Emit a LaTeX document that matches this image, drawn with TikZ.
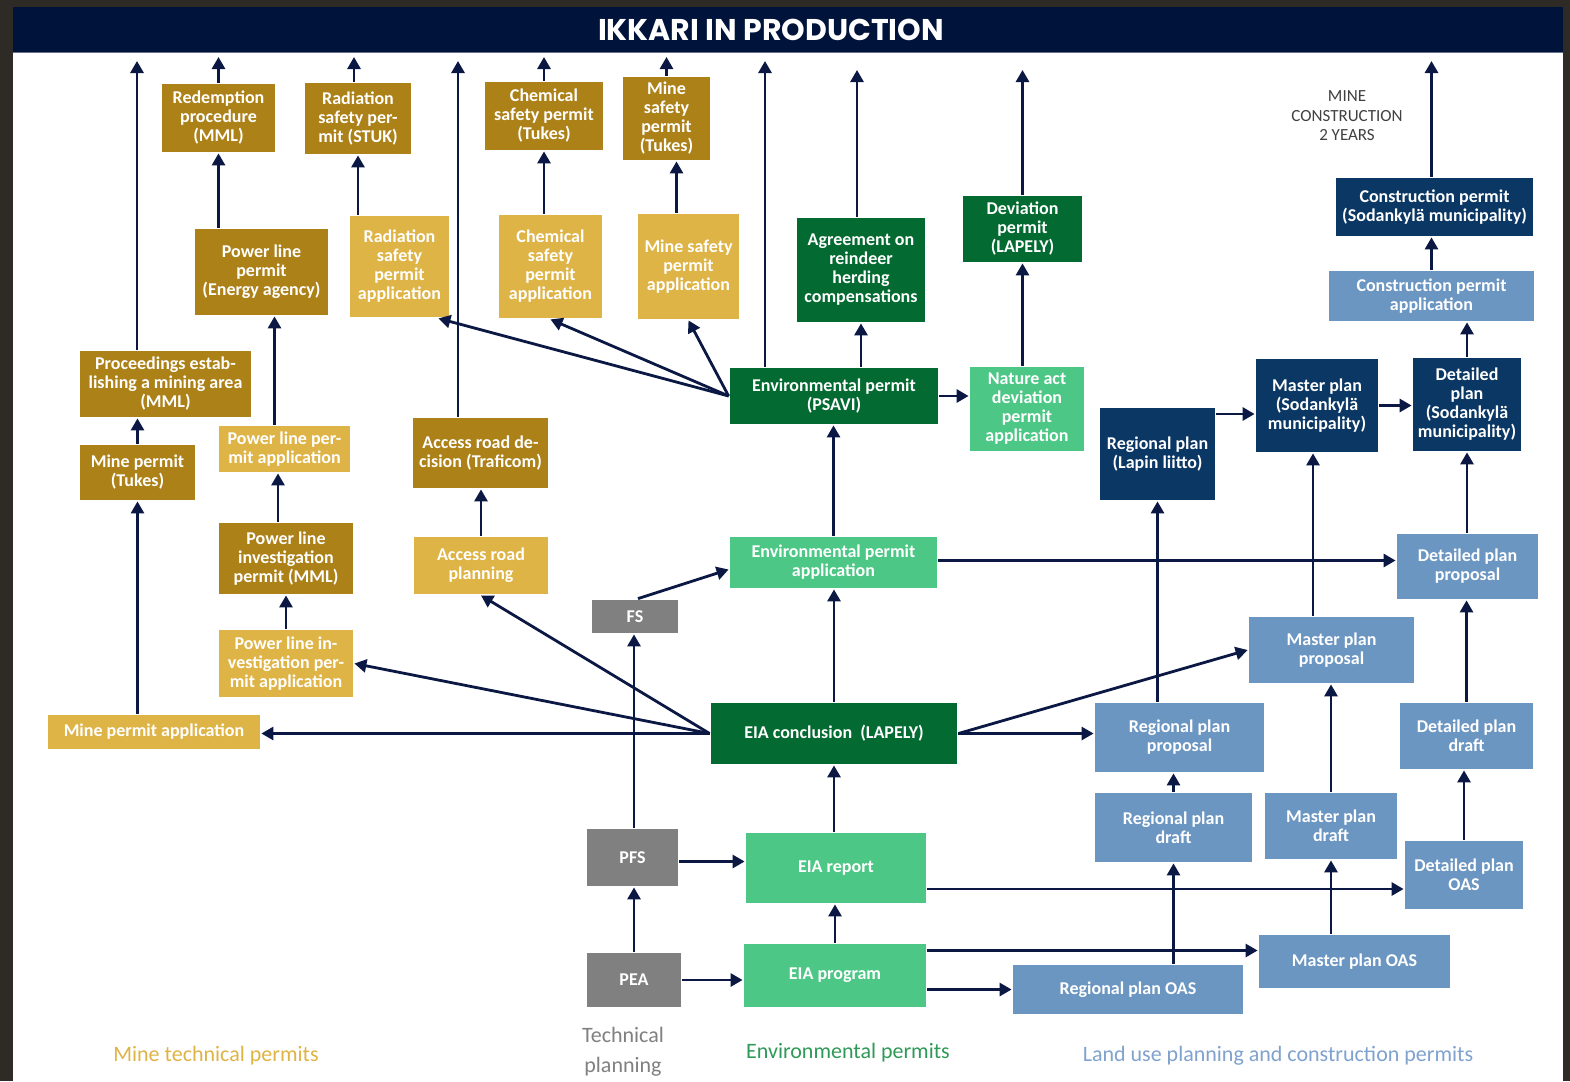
\documentclass[tikz,border=0pt]{standalone}
\usepackage{fontspec}
\setmainfont{Carlito}
\newfontfamily\titlefont{Poppins}
\usetikzlibrary{arrows.meta}
\definecolor{golddark}{HTML}{AC8118}
\definecolor{goldlight}{HTML}{DFB446}
\definecolor{greendark}{HTML}{036B31}
\definecolor{greenlight}{HTML}{4CC785}
\definecolor{greentext}{HTML}{2F9A57}
\definecolor{bluedark}{HTML}{0B3764}
\definecolor{bluelight}{HTML}{6C96C2}
\definecolor{bluetext}{HTML}{7FA2CE}
\definecolor{techgray}{HTML}{808080}
\definecolor{titlenavy}{HTML}{00133A}
\definecolor{framedark}{HTML}{2E2A26}
\definecolor{arrownavy}{HTML}{0B1843}

\begin{document}
\begin{tikzpicture}[x = 1pt, y = -1pt, line width = 2.8pt]
        \tikzstyle{box} = [rectangle, inner sep = 1pt, align = center, text = white, font = \bfseries\fontsize{18}{19}\selectfont]
        \tikzstyle{goldD} = [box, fill = golddark]
        \tikzstyle{goldL} = [box, fill = goldlight]
        \tikzstyle{greenD} = [box, fill = greendark]
        \tikzstyle{greenL} = [box, fill = greenlight]
        \tikzstyle{blueD} = [box, fill = bluedark]
        \tikzstyle{blueL} = [box, fill = bluelight]
        \tikzstyle{grayB} = [box, fill = techgray]
        \tikzstyle{legend} = [align = center, font = \fontsize{22}{30}\selectfont]
        \tikzstyle{arr} = [draw = arrownavy, -{Triangle[width = 13pt, length = 12pt]}]
        \useasboundingbox (0, 0) rectangle (1570, 1081);
        \fill[framedark] (0, 0) rectangle (1570, 1081);
        \fill[white] (13, 7) rectangle (1563, 1081);
        \fill[titlenavy] (13, 7) rectangle (1563, 53);
        \draw[line width = 1pt, color = titlenavy!60!white] (13, 53) -- (1563, 53);
        \node[text = white, font = \titlefont\bfseries\fontsize{30}{32}\selectfont] (title) at (771, 30) {IKKARI IN PRODUCTION};
        \coordinate (up) at (0, 57);
        \coordinate (upmid) at (0, 61);
        \coordinate (uplow) at (0, 70);
        \node[goldD] (M-redemption) at (218.5, 118) [minimum width = 113, minimum height = 68] {Redemption\\procedure\\(MML)};
        \node[goldD] (M-radperm) at (358, 118.5) [minimum width = 106, minimum height = 71] {Radiation\\safety per-\\mit (STUK)};
        \node[goldD] (M-chemperm) at (544, 116) [minimum width = 118, minimum height = 68] {Chemical\\safety permit\\(Tukes)};
        \node[goldD] (M-msperm) at (666.5, 118.5) [minimum width = 87, minimum height = 83] {Mine\\safety\\permit\\(Tukes)};
        \node[goldD] (M-plperm) at (261.5, 272) [minimum width = 133, minimum height = 86] {Power line\\permit\\(Energy agency)};
        \node[goldL] (M-radapp) at (399.5, 266.5) [minimum width = 99, minimum height = 101] {Radiation\\safety\\permit\\application};
        \node[goldL] (M-chemapp) at (550.5, 266.5) [minimum width = 103, minimum height = 103] {Chemical\\safety\\permit\\application};
        \node[goldL] (M-msapp) at (688.5, 266.5) [minimum width = 101, minimum height = 105] {Mine safety\\permit\\application};
        \node[goldD] (M-proc) at (165.5, 384) [minimum width = 171, minimum height = 66] {Proceedings estab-\\lishing a mining area\\(MML)};
        \node[goldD] (M-mineperm) at (137.5, 472.5) [minimum width = 115, minimum height = 55] {Mine permit\\(Tukes)};
        \node[goldL] (M-plapp) at (284.5, 449) [minimum width = 131, minimum height = 46] {Power line per-\\mit application};
        \node[goldD] (M-plinv) at (286, 558.5) [minimum width = 134, minimum height = 71] {Power line\\investigation\\permit (MML)};
        \node[goldL] (M-plinvapp) at (286, 663.5) [minimum width = 134, minimum height = 67] {Power line in-\\vestigation per-\\mit application};
        \node[goldL] (M-mpapp) at (154, 732) [minimum width = 212, minimum height = 34] {Mine permit application};
        \node[goldD] (M-ardec) at (480.5, 453) [minimum width = 135, minimum height = 70] {Access road de-\\cision (Traficom)};
        \node[goldL] (M-arplan) at (481, 565.5) [minimum width = 134, minimum height = 57] {Access road\\planning};
        \node[grayB] (T-fs) at (635, 616.5) [minimum width = 86, minimum height = 33] {FS};
        \node[grayB] (T-pfs) at (632.5, 857.5) [minimum width = 91, minimum height = 57] {PFS};
        \node[grayB] (T-pea) at (634, 980) [minimum width = 94, minimum height = 54] {PEA};
        \node[greenD] (E-conc) at (834, 733.5) [minimum width = 246, minimum height = 61] {EIA conclusion\ \ (LAPELY)};
        \node[greenL] (E-report) at (836, 868) [minimum width = 180, minimum height = 70] {EIA report};
        \node[greenL] (E-program) at (835, 975.5) [minimum width = 182, minimum height = 63] {EIA program};
        \node[greenL] (E-envapp) at (833.5, 562.5) [minimum width = 207, minimum height = 51] {Environmental permit\\application};
        \node[greenD] (E-envperm) at (834, 396) [minimum width = 208, minimum height = 56] {Environmental permit\\(PSAVI)};
        \node[greenD] (E-reindeer) at (861, 270) [minimum width = 128, minimum height = 104] {Agreement on\\reindeer\\herding\\compensations};
        \node[greenD] (E-devperm) at (1022.5, 229) [minimum width = 119, minimum height = 66] {Deviation\\permit\\(LAPELY)};
        \node[greenL] (E-natapp) at (1027, 409) [minimum width = 114, minimum height = 84] {Nature act\\deviation\\permit\\application};
        \node[blueD] (L-regplan) at (1157.5, 454) [minimum width = 115, minimum height = 92] {Regional plan\\(Lapin liitto)};
        \node[blueD] (L-mastplan) at (1317, 405.5) [minimum width = 122, minimum height = 93] {Master plan\\(Sodankylä\\municipality)};
        \node[blueD] (L-detplan) at (1467, 404.5) [minimum width = 108, minimum height = 93] {Detailed\\plan\\(Sodankylä\\municipality)};
        \node[blueL] (L-detprop) at (1467.5, 566.5) [minimum width = 141, minimum height = 65] {Detailed plan\\proposal};
        \node[blueD] (L-consperm) at (1434.5, 207) [minimum width = 197, minimum height = 58] {Construction permit\\(Sodankylä municipality)};
        \node[blueL] (L-consapp) at (1431.5, 296) [minimum width = 205, minimum height = 50] {Construction permit\\application};
        \node[blueL] (L-mastprop) at (1331.5, 650) [minimum width = 165, minimum height = 66] {Master plan\\proposal};
        \node[blueL] (L-regprop) at (1179.5, 737.5) [minimum width = 169, minimum height = 69] {Regional plan\\proposal};
        \node[blueL] (L-regdraft) at (1173.5, 827.5) [minimum width = 157, minimum height = 69] {Regional plan\\draft};
        \node[blueL] (L-mastdraft) at (1331, 826) [minimum width = 132, minimum height = 66] {Master plan\\draft};
        \node[blueL] (L-detdraft) at (1466.5, 736) [minimum width = 133, minimum height = 66] {Detailed plan\\draft};
        \node[blueL] (L-detoas) at (1464, 875) [minimum width = 118, minimum height = 68] {Detailed plan\\OAS};
        \node[blueL] (L-mastoas) at (1354.5, 961.5) [minimum width = 191, minimum height = 53] {Master plan OAS};
        \node[blueL] (L-regoas) at (1128, 989.5) [minimum width = 230, minimum height = 49] {Regional plan OAS};
        \node[text = black!75, align = center, font = \fontsize{17}{19.5}\selectfont] (minecons) at (1347, 116) {MINE\\CONSTRUCTION\\2 YEARS};
        \node[legend, text = goldlight] (leg-mine) at (216, 1056) {Mine technical permits};
        \node[legend, text = techgray] (leg-tech) at (623, 1052) {Technical\\planning};
        \node[legend, text = greentext] (leg-env) at (848, 1053) {Environmental permits};
        \node[legend, text = bluetext] (leg-land) at (1278, 1056) {Land use planning and construction permits};
        \draw[arr] ([xshift = -28.5]M-proc.north) -- ([xshift = -28.5]M-proc.north |- upmid);
        \draw[arr] (M-redemption.north) -- (M-redemption.north |- up);
        \draw[arr] ([xshift = -4]M-radperm.north) -- ([xshift = -4]M-radperm.north |- up);
        \draw[arr] ([xshift = -22.5]M-ardec.north) -- ([xshift = -22.5]M-ardec.north |- upmid);
        \draw[arr] (M-chemperm.north) -- (M-chemperm.north |- up);
        \draw[arr] (M-msperm.north) -- (M-msperm.north |- up);
        \draw[arr] ([xshift = -69]E-envperm.north) -- ([xshift = -69]E-envperm.north |- upmid);
        \draw[arr] ([xshift = -4]E-reindeer.north) -- ([xshift = -4]E-reindeer.north |- uplow);
        \draw[arr] (E-devperm.north) -- (E-devperm.north |- uplow);
        \draw[arr] ([xshift = -3]L-consperm.north) -- ([xshift = -3]L-consperm.north |- upmid);
        \draw[arr] (M-plperm.north -| M-redemption) -- (M-redemption.south);
        \draw[arr] (M-radapp.north -| M-radperm) -- (M-radperm.south);
        \draw[arr] (M-chemapp.north -| M-chemperm) -- (M-chemperm.south);
        \draw[arr] ([xshift = -12]M-msapp.north) -- ([xshift = -12]M-msapp.north |- M-msperm.south);
        \draw[arr] ([xshift = -10]M-plapp.north) -- ([xshift = -10]M-plapp.north |- M-plperm.south);
        \draw[arr] (M-mineperm.north) -- (M-mineperm.north |- M-proc.south);
        \draw[arr] (M-mpapp.north -| M-mineperm) -- (M-mineperm.south);
        \draw[arr] ([xshift = -8]M-plinv.north) -- ([xshift = -8]M-plinv.north |- M-plapp.south);
        \draw[arr] (M-plinvapp.north) -- (M-plinv.south);
        \draw[arr] (M-arplan.north) -- (M-arplan.north |- M-ardec.south);
        \draw[arr] (T-pea.north) -- (T-pea.north |- T-pfs.south);
        \draw[arr] (T-pfs.north -| T-pea) -- (T-fs.south -| T-pea);
        \draw[arr] ([xshift = 3]T-fs.north) -- ([yshift = -7]E-envapp.west);
        \draw[arr] ([yshift = -4]T-pfs.east) -- ([yshift = -4]T-pfs.east -| E-report.west);
        \draw[arr] (T-pea.east) -- (T-pea.east -| E-program.west);
        \draw[arr] (E-program.north) -- (E-program.north |- E-report.south);
        \draw[arr] (E-report.north -| E-conc) -- (E-conc.south);
        \draw[arr] (E-conc.north) -- (E-conc.north |- E-envapp.south);
        \draw[arr] (E-envapp.north) -- (E-envapp.north |- E-envperm.south);
        \draw[arr] (E-envperm.north -| E-reindeer) -- (E-reindeer.south);
        \draw[arr] (E-envperm.east) -- (E-envperm.east -| E-natapp.west);
        \draw[arr] (E-natapp.north -| E-devperm) -- (E-devperm.south);
        \draw[arr] (E-envperm.west) -- ([xshift = -12]M-radapp.south east);
        \draw[arr] (E-envperm.west) -- (M-chemapp.south);
        \draw[arr] (E-envperm.west) -- (M-msapp.south);
        \draw[arr] (E-conc.west) -- (E-conc.west -| M-mpapp.east);
        \draw[arr] (E-conc.west) -- (M-plinvapp.east);
        \draw[arr] (E-conc.west) -- (M-arplan.south);
        \draw[arr] (E-conc.east) -- (E-conc.east -| L-regprop.west);
        \draw[arr] (E-conc.east) -- (L-mastprop.west);
        \draw[arr] ([yshift = 2]E-envapp.east) -- ([yshift = 2]E-envapp.east -| L-detprop.west);
        \draw[arr] ([yshift = -21]E-report.east) -- ([yshift = -21]E-report.east -| L-detoas.west);
        \draw[arr] ([yshift = 25]E-program.east) -- ([yshift = 25]E-program.east -| L-mastoas.west);
        \draw[arr] (E-program.east |- L-regoas.west) -- (L-regoas.west);
        \draw[arr] (L-regoas.north -| L-regdraft) -- (L-regdraft.south);
        \draw[arr] (L-regdraft.north) -- (L-regdraft.north |- L-regprop.south);
        \draw[arr] (L-regprop.north -| L-regplan) -- (L-regplan.south);
        \draw[arr] ([yshift = 40]L-regplan.east) -- ([yshift = 40]L-regplan.east -| L-mastplan.west);
        \draw[arr] (L-mastplan.east) -- (L-mastplan.east -| L-detplan.west);
        \draw[arr] (L-mastoas.north -| L-mastdraft) -- (L-mastdraft.south);
        \draw[arr] (L-mastdraft.north) -- (L-mastdraft.north |- L-mastprop.south);
        \draw[arr] ([xshift = -4]L-mastplan.south |- L-mastprop.north) -- ([xshift = -4]L-mastplan.south);
        \draw[arr] (L-detoas.north) -- (L-detoas.north |- L-detdraft.south);
        \draw[arr] (L-detdraft.north) -- (L-detdraft.north |- L-detprop.south);
        \draw[arr] (L-detprop.north -| L-detplan) -- (L-detplan.south);
        \draw[arr] (L-detplan.north) -- (L-detplan.north |- L-consapp.south);
        \draw[arr] (L-consapp.north) -- (L-consapp.north |- L-consperm.south);
      \end{tikzpicture}
\end{document}
